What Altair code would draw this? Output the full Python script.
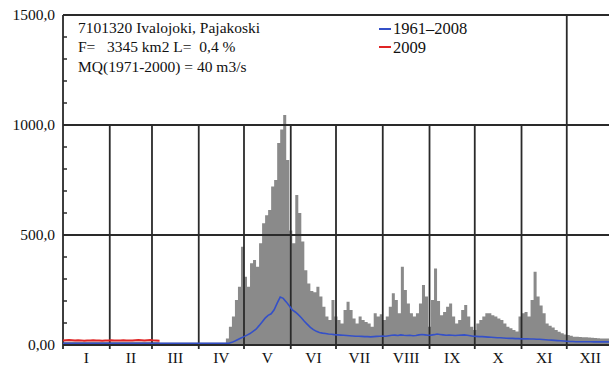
import altair as alt
import pandas as pd

# Month boundaries (day of year) and Roman month labels
MONTH_STARTS = [0, 31, 59, 90, 120, 151, 181, 212, 243, 273, 304, 334, 365]
MONTH_LABELS = ["I", "II", "III", "IV", "V", "VI", "VII", "VIII", "IX", "X", "XI", "XII"]

# Y axis labels
Y_TICKS = [0, 500, 1000, 1500]
Y_TICK_LABELS = ["0,00", "500,0", "1000,0", "1500,0"]
Y_MINOR = [100, 200, 300, 400, 600, 700, 800, 900, 1100, 1200, 1300, 1400]

# Discharge in m3/s, one value per 2-day step starting at Jan 1
BIN_DAYS = 2

# Daily maximum 1961-2008 (grey)
max_q = (
    [15] * 32 + [10] * 22 +
    [30, 83, 129, 205, 265, 447, 310, 265, 372, 386,
     356, 462, 553, 590, 614, 720, 750, 918, 980, 1045,
     841, 520, 462, 682, 600, 470, 340, 280, 245, 240,
     265, 220, 174, 129, 114, 205, 130, 114, 98, 159,
     197, 159, 120, 98, 129, 114, 105, 98, 83, 144,
     129, 140, 114, 129, 174, 235, 205, 144, 356, 250,
     189, 144, 129, 144, 189, 273, 220, 83, 205, 348,
     200, 135, 150, 174, 189, 129, 98, 114, 159, 182,
     129, 83, 68, 98, 114, 129, 144, 144, 135, 129,
     121, 114, 98, 83, 76, 68, 61, 129, 144, 150,
     129, 205, 333, 220, 180, 144, 98, 88, 80, 68,
     60, 53, 48, 45, 42, 38, 37, 36, 35, 35,
     34, 33, 32, 31, 30, 30, 30, 29, 28]
)

# Daily mean 1961-2008 (blue)
mean_q = (
    [8] * 56 +
    [12, 18, 25, 32, 38, 45, 52, 62, 72, 88,
     105, 122, 135, 142, 160, 190, 218, 212, 196, 178,
     160, 150, 138, 124, 108, 94, 80, 70, 62, 57,
     54, 52, 50, 49, 47, 46, 45, 44, 43, 42,
     41, 40, 40, 39, 38, 38, 37, 38, 39, 40,
     41, 40, 42, 44, 45, 43, 46, 44, 43, 44,
     42, 43, 46, 48, 46, 44, 45, 47, 50, 48,
     46, 44, 45, 44, 43, 44, 45, 46, 44, 42,
     40, 39, 38, 38, 37, 36, 35, 34, 33, 33,
     32, 31, 30, 30, 29, 29, 28, 28, 28, 27,
     27, 26, 26, 25, 24, 23, 22, 21, 20, 19,
     18, 17, 16, 16, 15, 15, 15, 15, 15, 15,
     14, 14, 14, 14, 14, 14, 14]
)

# Year 2009 (red), January to early March
q_2009 = [20, 22, 23, 22, 21, 22, 21, 19, 20, 21, 22, 21, 20, 19, 20, 21, 22,
          21, 20, 21, 22, 21, 20, 21, 22, 23, 22, 21, 22, 23, 21, 20, 19]

W, H = 546, 330
X_DOMAIN = [0, 362]
SERIF = "Liberation Serif"
INK = "#111111"
GRID = "#2a2a2a"
NB = "\u00a0"

max_df = pd.DataFrame({
    "day": [i * BIN_DAYS for i in range(len(max_q))] + [len(max_q) * BIN_DAYS],
    "q": max_q + [max_q[-1]],
})
mean_df = pd.DataFrame({"day": [i * BIN_DAYS for i in range(len(mean_q))], "q": mean_q})
y09_df = pd.DataFrame({"day": [i * BIN_DAYS for i in range(len(q_2009))], "q": q_2009})

xs = alt.Scale(domain=X_DOMAIN, nice=False, zero=False)
ys = alt.Scale(domain=[0, 1500], nice=False)

grey = alt.Chart(max_df).mark_area(
    interpolate="step-after", color="#8a8a8a", clip=True
).encode(
    x=alt.X("day:Q", scale=xs, axis=None),
    y=alt.Y("q:Q", scale=ys, axis=None),
)

hgrid = alt.Chart(pd.DataFrame({"v": Y_TICKS})).mark_rule(
    color=GRID, strokeWidth=1.8
).encode(
    y=alt.Y("v:Q", scale=ys, axis=None),
    x=alt.value(0),
    x2=alt.value(W),
)

# Month dividers run up to the 1000 line (text box above), except the
# left frame and the XI/XII divider which reach the top
full_height = [0, 334]
short = [d for d in MONTH_STARTS[1:-1] if d not in full_height]

vgrid_short = alt.Chart(pd.DataFrame({"d": short})).mark_rule(
    color=GRID, strokeWidth=1.8
).encode(
    x=alt.X("d:Q", scale=xs, axis=None),
    y=alt.value(H * 1 / 3),
    y2=alt.value(H + 4),
)

vgrid_full = alt.Chart(pd.DataFrame({"d": full_height})).mark_rule(
    color=GRID, strokeWidth=1.8
).encode(
    x=alt.X("d:Q", scale=xs, axis=None),
    y=alt.value(0),
    y2=alt.value(H + 4),
)

minor = alt.Chart(pd.DataFrame({"v": Y_MINOR})).mark_rule(
    color=GRID, strokeWidth=1.5
).encode(
    y=alt.Y("v:Q", scale=ys, axis=None),
    x=alt.value(0),
    x2=alt.value(4),
)

mean_line = alt.Chart(mean_df).mark_line(
    color="#3450c8", strokeWidth=1.6, clip=True
).encode(
    x=alt.X("day:Q", scale=xs, axis=None),
    y=alt.Y("q:Q", scale=ys, axis=None),
)

line_2009 = alt.Chart(y09_df).mark_line(
    color="#e02424", strokeWidth=2
).encode(
    x=alt.X("day:Q", scale=xs, axis=None),
    y=alt.Y("q:Q", scale=ys, axis=None),
)

ylabels = alt.Chart(pd.DataFrame({"v": Y_TICKS, "t": Y_TICK_LABELS})).mark_text(
    align="right", baseline="middle", font=SERIF, fontSize=15.5, color=INK
).encode(
    y=alt.Y("v:Q", scale=ys, axis=None),
    x=alt.value(-8),
    text="t:N",
)

mid_days = [(MONTH_STARTS[i] + MONTH_STARTS[i + 1]) / 2 for i in range(12)]
xlabels = alt.Chart(pd.DataFrame({"d": mid_days, "t": MONTH_LABELS})).mark_text(
    align="center", baseline="middle", font=SERIF, fontSize=15.5, color=INK
).encode(
    x=alt.X("d:Q", scale=xs, axis=None),
    y=alt.value(H + 13),
    text="t:N",
)

def note(txt, px, py, size=15.5):
    return alt.Chart(pd.DataFrame({"t": [txt]})).mark_text(
        align="left", baseline="alphabetic", font=SERIF, fontSize=size, color=INK
    ).encode(x=alt.value(px), y=alt.value(py), text="t:N")

info = [
    note("7101320 Ivalojoki, Pajakoski", 15, 18),
    note(f"F={NB}{NB}{NB}3345 km2 L={NB}{NB}0,4 %", 15, 37),
    note("MQ(1971-2000) = 40 m3/s", 15, 57),
]

def key(color, py):
    return alt.Chart(pd.DataFrame({"k": [0]})).mark_rule(
        color=color, strokeWidth=2
    ).encode(x=alt.value(316), x2=alt.value(328), y=alt.value(py))

legend = [
    key("#3450c8", 14), note("1961\u20132008", 330, 19, 16.5),
    key("#e02424", 32), note("2009", 330, 38, 16.5),
]

chart = alt.layer(
    grey, hgrid, vgrid_short, vgrid_full, minor, mean_line, line_2009,
    ylabels, xlabels, *info, *legend
).properties(
    width=W, height=H,
    autosize=alt.AutoSizeParams(type="none"),
    padding={"left": 63, "top": 15, "right": 0, "bottom": 24},
).configure_view(stroke=None).configure(background="white")

chart.save("out.html", embed_options={"renderer": "svg", "actions": False})
